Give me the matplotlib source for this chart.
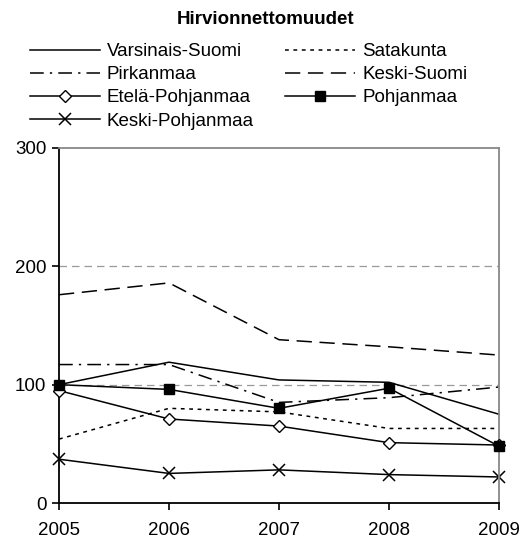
import matplotlib
matplotlib.use("Agg")
import matplotlib.pyplot as plt

plt.rcParams['font.family'] = ['Liberation Sans', 'DejaVu Sans']

years = [2005, 2006, 2007, 2008, 2009]
varsinais_suomi = [100, 119, 104, 102, 75]
satakunta = [54, 80, 77, 63, 63]
pirkanmaa = [117, 117, 85, 89, 98]
keski_suomi = [176, 186, 138, 132, 125]
etela_pohjanmaa = [95, 71, 65, 51, 49]
pohjanmaa = [100, 96, 80, 97, 48]
keski_pohjanmaa = [37, 25, 28, 24, 22]

title = "Hirvionnettomuudet"

fig = plt.figure(figsize=(5.25, 5.45), dpi=100)
ax = fig.add_axes([59/525, 42/545, 440/525, 355/545])

lw = 1.1
h_vs, = ax.plot(years, varsinais_suomi, color='black', lw=lw, label='Varsinais-Suomi', clip_on=False)
h_sa, = ax.plot(years, satakunta, color='black', lw=lw, linestyle=(0, (2.5, 3)), label='Satakunta', clip_on=False)
h_pi, = ax.plot(years, pirkanmaa, color='black', lw=lw, linestyle=(0, (9, 4, 1.5, 4)), label='Pirkanmaa', clip_on=False)
h_ks, = ax.plot(years, keski_suomi, color='black', lw=lw, linestyle=(0, (10, 5)), label='Keski-Suomi', clip_on=False)
h_ep, = ax.plot(years, etela_pohjanmaa, color='black', lw=lw, marker='D', markersize=6,
                markerfacecolor='white', markeredgecolor='black', markeredgewidth=1,
                label='Etelä-Pohjanmaa', clip_on=False, zorder=3)
h_po, = ax.plot(years, pohjanmaa, color='black', lw=lw, marker='s', markersize=7.5,
                markerfacecolor='black', markeredgecolor='black',
                label='Pohjanmaa', clip_on=False, zorder=4)
h_kp, = ax.plot(years, keski_pohjanmaa, color='black', lw=lw, marker='x', markersize=9,
                markeredgewidth=1.1, label='Keski-Pohjanmaa', clip_on=False)

ax.set_xlim(2005, 2009)
ax.set_ylim(0, 300)
ax.set_xticks(years)
ax.set_xticklabels([str(y) for y in years])
ax.set_yticks([0, 100, 200, 300])
for yv in [100, 200]:
    ax.axhline(yv, color='#999999', lw=0.9, linestyle=(0, (6, 4)), zorder=0)

ax.spines['left'].set_color('black')
ax.spines['bottom'].set_color('black')
ax.spines['left'].set_linewidth(1.3)
ax.spines['bottom'].set_linewidth(1.3)
ax.spines['top'].set_color('#888888')
ax.spines['right'].set_color('#888888')
ax.spines['top'].set_linewidth(1.3)
ax.spines['right'].set_linewidth(1.3)
ax.tick_params(axis='both', direction='out', length=5, width=1.2, labelsize=13.5, colors='black')
ax.tick_params(axis='x', pad=9)
ax.tick_params(axis='y', pad=4)

fig.text(266/525, 1 - 20/545, title, ha='center', va='center', fontsize=13.5, fontweight='bold')

handles = [h_vs, h_pi, h_ep, h_kp, h_sa, h_ks, h_po]
fig.legend(handles=handles, labels=[h.get_label() for h in handles], ncol=2,
           loc='upper left', bbox_to_anchor=(30/525, 1 - 43/545), frameon=False,
           fontsize=13.5, handlelength=3.73, handletextpad=0.37, columnspacing=1.67,
           labelspacing=0.32, borderpad=0, borderaxespad=0, numpoints=1)

fig.savefig('out.png', dpi=100)
